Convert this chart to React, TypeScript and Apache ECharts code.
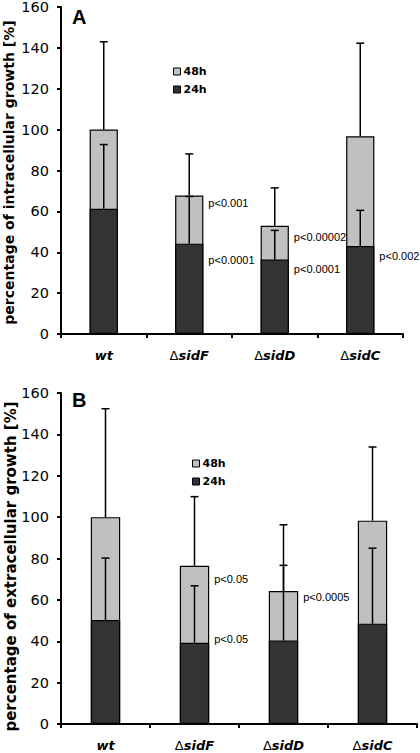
import React, { useEffect, useRef } from "react";
import * as echarts from "echarts";

const categories = ["wt", "ΔsidF", "ΔsidD", "ΔsidC"];

// Panel A – intracellular growth
const a48 = [100, 67.8, 53, 96.7];
const a24 = [61.3, 44.2, 36.4, 43];
const a48Err = [143, 88.1, 71.5, 142.3];
const a24Err = [92.7, 67.3, 50.7, 60.5];
const aPCat = [1, 1, 2, 2, 3];
const aPAt = [64, 36, 47.5, 31.7, 38];
const aPText = ["p<0.001", "p<0.0001", "p<0.00002", "p<0.0001", "p<0.002"];

// Panel B – extracellular growth
const b48 = [100, 76.5, 64.3, 98.3];
const b24 = [50.3, 39.3, 40.4, 48.5];
const b48Err = [152.4, 109.9, 96.3, 133.9];
const b24Err = [80.2, 66.8, 76.7, 85];
const bPCat = [1, 1, 2];
const bPAt = [70.2, 41.1, 61.2];
const bPText = ["p<0.05", "p<0.05", "p<0.0005"];

const FONT = "DejaVu Sans";

function errRender(_params: any, api: any) {
  const x = api.value(0);
  const p0 = api.coord([x, api.value(1)]);
  const p1 = api.coord([x, api.value(2)]);
  const hw = 4;
  const st = { stroke: "#000", lineWidth: 1.5 };
  return {
    type: "group",
    children: [
      { type: "line", shape: { x1: p0[0], y1: p0[1], x2: p1[0], y2: p1[1] }, style: st },
      { type: "line", shape: { x1: p1[0] - hw, y1: p1[1], x2: p1[0] + hw, y2: p1[1] }, style: st },
    ],
  };
}

function pRender(texts: string[]) {
  return (params: any, api: any) => {
    const x = api.value(0);
    const p = api.coord([x, api.value(1)]);
    const bw = api.size([1, 0])[0] * 0.33;
    return {
      type: "text",
      x: p[0] + bw / 2 + 5,
      y: p[1],
      style: {
        text: texts[params.dataIndex],
        fontFamily: "Liberation Sans",
        fontSize: 11,
        fill: "#000",
        textAlign: "left",
        textVerticalAlign: "middle",
      },
    };
  };
}

function xAxisCfg(gridIndex: number) {
  return {
    type: "category",
    gridIndex,
    data: categories,
    axisLine: { lineStyle: { color: "#000", width: 2 } },
    axisTick: { show: true, length: 4, lineStyle: { color: "#000", width: 2 } },
    axisLabel: {
      interval: 0,
      margin: 15,
      formatter: (v: string) => (v.startsWith("Δ") ? `{d|Δ}{s|${v.slice(1)}}` : `{s|${v}}`),
      rich: {
        d: { fontFamily: FONT, fontSize: 13, color: "#000" },
        s: { fontFamily: FONT, fontSize: 13, fontWeight: "bold", fontStyle: "italic", color: "#000" },
      },
    },
  };
}

function yAxisCfg(gridIndex: number, name: string, nameSize: number, nameGap: number, namePad: number[]) {
  return {
    type: "value",
    gridIndex,
    min: 0,
    max: 160,
    interval: 20,
    name,
    nameLocation: "middle",
    nameGap,
    nameRotate: 90,
    nameMoveOverlap: false,
    nameTextStyle: { fontFamily: FONT, fontSize: nameSize, fontWeight: "bold", color: "#000", padding: namePad },
    splitLine: { show: false },
    axisLine: { show: true, lineStyle: { color: "#000", width: 2 } },
    axisTick: { show: true, length: 4, lineStyle: { color: "#000", width: 2 } },
    axisLabel: { fontFamily: FONT, fontSize: 14.5, color: "#000", margin: 12 },
  };
}

function legendCfg(left: number, top: number) {
  return {
    data: ["48h", "24h"],
    orient: "vertical",
    left,
    top,
    itemWidth: 7,
    itemHeight: 7,
    itemGap: 7,
    icon: "rect",
    selectedMode: false,
    itemStyle: { borderColor: "#000", borderWidth: 1 },
    textStyle: { fontFamily: FONT, fontSize: 11, fontWeight: "bold", color: "#000", padding: [0, 0, 0, -2] },
  };
}

function barSeries(name: string, data: number[], idx: number, color: string) {
  return {
    type: "bar",
    name,
    xAxisIndex: idx,
    yAxisIndex: idx,
    data,
    barWidth: "33%",
    barGap: "-100%",
    itemStyle: { color, borderColor: "#000", borderWidth: 1.2 },
  };
}

function errSeries(base: number[], top: number[], idx: number) {
  return {
    type: "custom",
    name: "err",
    xAxisIndex: idx,
    yAxisIndex: idx,
    renderItem: errRender,
    data: base.map((b, i) => [i, b, top[i]]),
    z: 5,
  };
}

function pSeries(cats: number[], at: number[], texts: string[], idx: number) {
  return {
    type: "custom",
    name: "p",
    xAxisIndex: idx,
    yAxisIndex: idx,
    renderItem: pRender(texts),
    data: cats.map((c, i) => [c, at[i]]),
    z: 6,
  };
}

export default function App() {
  const ref = useRef<HTMLDivElement>(null);
  useEffect(() => {
    if (!ref.current) return;
    const chart = echarts.init(ref.current, null, { renderer: "svg" });
    chart.setOption({
      animation: false,
      backgroundColor: "#fff",
      grid: [
        { left: 61, right: 17, top: 7, bottom: 419, containLabel: false, outerBoundsMode: "none" },
        { left: 61, right: 3, top: 393, bottom: 29, containLabel: false, outerBoundsMode: "none" },
      ],
      xAxis: [xAxisCfg(0), xAxisCfg(1)],
      yAxis: [
        yAxisCfg(0, "percentage of intracellular growth [%]", 14, 45, [0, 4, 0, 0]),
        yAxisCfg(1, "percentage of extracellular growth [%]", 15, 43, [0, 16, 0, 0]),
      ],
      legend: [legendCfg(168, 61), legendCfg(187, 453)],
      graphic: [
        { type: "text", left: 72, top: 7, style: { text: "A", fontFamily: "Liberation Sans", fontSize: 20, fontWeight: "bold", fill: "#000" } },
        { type: "text", left: 72, top: 390, style: { text: "B", fontFamily: "Liberation Sans", fontSize: 20, fontWeight: "bold", fill: "#000" } },
      ],
      series: [
        barSeries("48h", a48, 0, "#c0c0c0"),
        barSeries("24h", a24, 0, "#333333"),
        errSeries(a48, a48Err, 0),
        errSeries(a24, a24Err, 0),
        pSeries(aPCat, aPAt, aPText, 0),
        barSeries("48h", b48, 1, "#c0c0c0"),
        barSeries("24h", b24, 1, "#333333"),
        errSeries(b48, b48Err, 1),
        errSeries(b24, b24Err, 1),
        pSeries(bPCat, bPAt, bPText, 1),
      ],
    });
    return () => chart.dispose();
  }, []);
  return <div ref={ref} style={{ position: "fixed", left: 0, top: 0, width: 420, height: 753 }} />;
}
